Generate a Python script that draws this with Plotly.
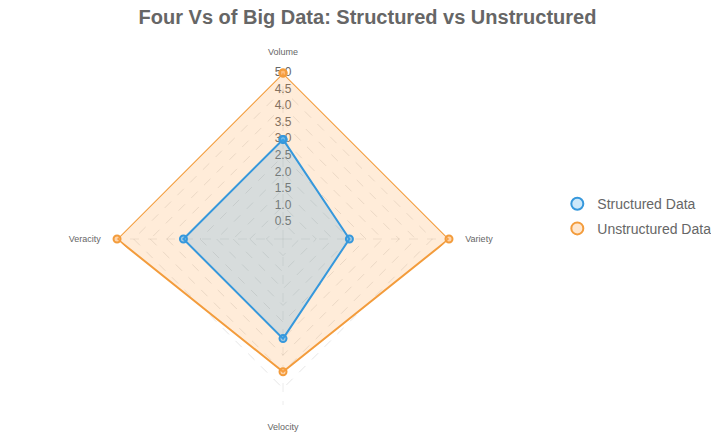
import plotly.graph_objects as go

categories = ["Volume", "Variety", "Velocity", "Veracity"]
structured = [3, 2, 3, 3]
unstructured = [5, 5, 4, 5]
tick_vals = [0.5, 1.0, 1.5, 2.0, 2.5, 3.0, 3.5, 4.0, 4.5, 5.0]
tick_text = [f"{v:.1f}" for v in tick_vals]

FONT = "Liberation Sans, Arial, sans-serif"
BLUE = "rgb(54,152,220)"
ORANGE = "rgb(243,156,60)"

fig = go.Figure()

# radial tick labels, centered on the Volume axis
fig.add_trace(go.Scatterpolar(
    r=tick_vals, theta=[categories[0]] * len(tick_vals),
    mode="text", text=tick_text,
    textfont=dict(size=12, color="#666666", family=FONT),
    showlegend=False, hoverinfo="skip",
))

def closed(v):
    return v + v[:1]

fig.add_trace(go.Scatterpolar(
    r=closed(unstructured), theta=closed(categories),
    name="Unstructured Data", mode="lines+markers",
    fill="toself", fillcolor="rgba(255,159,64,0.2)",
    line=dict(color=ORANGE, width=2),
    marker=dict(size=7, color="rgba(255,159,64,0.45)",
                line=dict(color=ORANGE, width=2)),
    showlegend=False,
))
fig.add_trace(go.Scatterpolar(
    r=closed(structured), theta=closed(categories),
    name="Structured Data", mode="lines+markers",
    fill="toself", fillcolor="rgba(54,162,235,0.2)",
    line=dict(color=BLUE, width=2),
    marker=dict(size=7, color="rgba(54,162,235,0.45)",
                line=dict(color=BLUE, width=2)),
    showlegend=False,
))

# legend entries (markers only)
fig.add_trace(go.Scatterpolar(
    r=[None], theta=[categories[0]], name="Structured Data", mode="markers",
    marker=dict(size=12, color="rgba(54,162,235,0.25)", line=dict(color=BLUE, width=2)),
    legend="legend", hoverinfo="skip",
))
fig.add_trace(go.Scatterpolar(
    r=[None], theta=[categories[0]], name="Unstructured Data", mode="markers",
    marker=dict(size=12, color="rgba(255,159,64,0.25)", line=dict(color=ORANGE, width=2)),
    legend="legend2", hoverinfo="skip",
))

legend_common = dict(xanchor="left", yanchor="top",
                     font=dict(size=14, color="#666666", family=FONT),
                     bgcolor="rgba(0,0,0,0)")

fig.update_layout(
    width=719, height=433,
    paper_bgcolor="white",
    margin=dict(l=0, r=0, t=0, b=0),
    font=dict(family=FONT, color="#666666"),
    title=dict(text="<b>Four Vs of Big Data: Structured vs Unstructured</b>",
               x=0.5, xanchor="center", y=0.979, yanchor="middle",
               font=dict(size=20, color="#666666", family=FONT)),
    polar=dict(
        bgcolor="white",
        gridshape="linear",
        domain=dict(x=[0.1516, 0.6134], y=[0.0832, 0.8498]),
        radialaxis=dict(range=[0, 5], tickvals=tick_vals, showticklabels=False,
                        ticks="", showline=False, gridcolor="rgba(0,0,0,0.1)",
                        griddash="dash", angle=90),
        angularaxis=dict(direction="clockwise", rotation=90,
                         tickfont=dict(size=9, color="#666666", family=FONT),
                         ticks="outside", ticklen=14, tickcolor="rgba(0,0,0,0)",
                         showline=False,
                         gridcolor="rgba(0,0,0,0.08)", griddash="dash"),
    ),
    legend=dict(x=0.764, y=0.584, **legend_common),
    legend2=dict(x=0.764, y=0.527, **legend_common),
)

fig.write_html("out.html")
